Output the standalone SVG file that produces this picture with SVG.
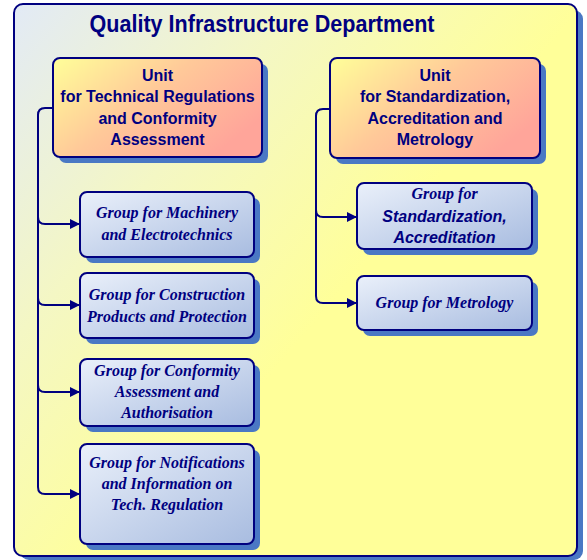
<svg xmlns="http://www.w3.org/2000/svg" width="587" height="560" viewBox="0 0 587 560">
<defs>
<linearGradient id="gBg" x1="0" y1="0" x2="0.6" y2="0.5">
<stop offset="0" stop-color="#e2eaf6"/>
<stop offset="0.5" stop-color="#f4f7c4"/>
<stop offset="1" stop-color="#ffff99"/>
</linearGradient>
<linearGradient id="gUnit" x1="0" y1="0" x2="1" y2="0.6">
<stop offset="0" stop-color="#ffff99"/>
<stop offset="0.5" stop-color="#ffc999"/>
<stop offset="1" stop-color="#ffa59a"/>
</linearGradient>
<linearGradient id="gGrp" x1="0" y1="0" x2="1" y2="1">
<stop offset="0" stop-color="#eaf0fa"/>
<stop offset="1" stop-color="#a8bce0"/>
</linearGradient>
<marker id="arr" markerUnits="userSpaceOnUse" markerWidth="12" markerHeight="12" refX="10" refY="6" orient="auto">
<path d="M0,1 L10,6 L0,11 Z" fill="#000080"/>
</marker>
</defs>
<style>
.sh{fill:#4a78c4}
.frame{fill:url(#gBg);stroke:#000080;stroke-width:2}
.unit{fill:url(#gUnit);stroke:#000080;stroke-width:2}
.grp{fill:url(#gGrp);stroke:#000080;stroke-width:2}
.title{font-family:"Liberation Sans",Arial,sans-serif;font-weight:bold;font-size:24px;fill:#000080;text-anchor:middle}
.ut{font-family:"Liberation Sans",Arial,sans-serif;font-weight:bold;font-size:16px;fill:#000080;text-anchor:middle}
.gt{font-family:"Liberation Serif","Times New Roman",serif;font-weight:bold;font-style:italic;font-size:16px;fill:#000080;text-anchor:middle}
.gs{font-family:"Liberation Sans",Arial,sans-serif;font-weight:bold;font-style:italic;font-size:16px;fill:#000080;text-anchor:middle}
.con{fill:none;stroke:#000080;stroke-width:2}
</style>
<g id="department">
<rect class="sh" x="20" y="10" width="563" height="550" rx="9"/>
<rect class="frame" x="14" y="4" width="563" height="552" rx="9"/>
<text class="title" x="262" y="32" textLength="345" lengthAdjust="spacingAndGlyphs">Quality Infrastructure Department</text>
</g>
<g id="connectors">
<path class="con" d="M53,108 H45 Q38,108 38,115 V487"/>
<path class="con" d="M38,217 Q38,224 45,224 H80" marker-end="url(#arr)"/>
<path class="con" d="M38,298 Q38,305 45,305 H80" marker-end="url(#arr)"/>
<path class="con" d="M38,385 Q38,392 45,392 H80" marker-end="url(#arr)"/>
<path class="con" d="M38,487 Q38,494 45,494 H80" marker-end="url(#arr)"/>
<path class="con" d="M330,109 H323 Q316,109 316,116 V296"/>
<path class="con" d="M316,210 Q316,217 323,217 H357" marker-end="url(#arr)"/>
<path class="con" d="M316,296 Q316,303 323,303 H357" marker-end="url(#arr)"/>
</g>
<g id="unit-tech">
<rect class="sh" x="59" y="64" width="209" height="99" rx="7"/>
<rect class="unit" x="53" y="58" width="209" height="99" rx="7"/>
<text class="ut" x="157.5" y="81">Unit</text>
<text class="ut" x="157.5" y="102">for Technical Regulations</text>
<text class="ut" x="157.5" y="124">and Conformity</text>
<text class="ut" x="157.5" y="145">Assessment</text>
</g>
<g id="unit-std">
<rect class="sh" x="336" y="64" width="210" height="100" rx="7"/>
<rect class="unit" x="330" y="58" width="210" height="100" rx="7"/>
<text class="ut" x="435" y="81">Unit</text>
<text class="ut" x="435" y="102">for Standardization,</text>
<text class="ut" x="435" y="124">Accreditation and</text>
<text class="ut" x="435" y="145">Metrology</text>
</g>
<g id="grp-machinery">
<rect class="sh" x="86" y="198" width="174" height="65" rx="7"/>
<rect class="grp" x="80" y="192" width="174" height="65" rx="7"/>
<text class="gt" x="167" y="218">Group for Machinery</text>
<text class="gt" x="167" y="240">and Electrotechnics</text>
</g>
<g id="grp-construction">
<rect class="sh" x="86" y="279" width="174" height="65" rx="7"/>
<rect class="grp" x="80" y="273" width="174" height="65" rx="7"/>
<text class="gt" x="167" y="300">Group for Construction</text>
<text class="gt" x="167" y="322">Products and Protection</text>
</g>
<g id="grp-conformity">
<rect class="sh" x="86" y="365" width="174" height="67" rx="7"/>
<rect class="grp" x="80" y="359" width="174" height="67" rx="7"/>
<text class="gt" x="167" y="376">Group for Conformity</text>
<text class="gt" x="167" y="397">Assessment and</text>
<text class="gt" x="167" y="418">Authorisation</text>
</g>
<g id="grp-notifications">
<rect class="sh" x="86" y="450" width="174" height="100" rx="7"/>
<rect class="grp" x="80" y="444" width="174" height="100" rx="7"/>
<text class="gt" x="167" y="468">Group for Notifications</text>
<text class="gt" x="167" y="489">and Information on</text>
<text class="gt" x="167" y="510">Tech. Regulation</text>
</g>
<g id="grp-standardization">
<rect class="sh" x="363" y="189" width="175" height="66" rx="7"/>
<rect class="grp" x="357" y="183" width="175" height="66" rx="7"/>
<text class="gt" x="444.5" y="199">Group for</text>
<text class="gs" x="444.5" y="222">Standardization,</text>
<text class="gs" x="444.5" y="243">Accreditation</text>
</g>
<g id="grp-metrology">
<rect class="sh" x="363" y="282" width="175" height="54" rx="7"/>
<rect class="grp" x="357" y="276" width="175" height="54" rx="7"/>
<text class="gt" x="444.5" y="308">Group for Metrology</text>
</g>
</svg>
